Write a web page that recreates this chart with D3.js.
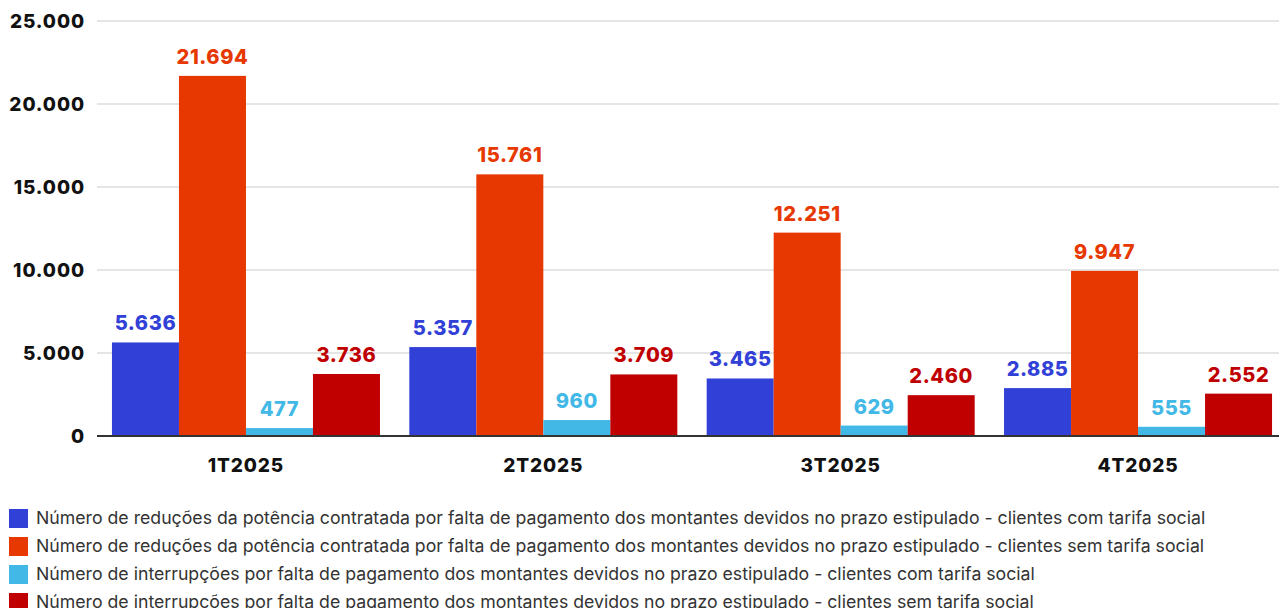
<!DOCTYPE html>
<html>
<head>
<meta charset="utf-8">
<script src="https://cdn.jsdelivr.net/npm/d3@7"></script>
<style>
  body { margin: 0; background: #fff; }
  svg { display: block; }
</style>
</head>
<body>
<svg id="chart" width="1279" height="608"></svg>
<script>
// Quarters on the x axis
const quarters = ["1T2025", "2T2025", "3T2025", "4T2025"];

// Series (same order as the legend)
const seriesNames = [
    "Número de reduções da potência contratada por falta de pagamento dos montantes devidos no prazo estipulado - clientes com tarifa social",
    "Número de reduções da potência contratada por falta de pagamento dos montantes devidos no prazo estipulado - clientes sem tarifa social",
    "Número de interrupções por falta de pagamento dos montantes devidos no prazo estipulado - clientes com tarifa social",
    "Número de interrupções por falta de pagamento dos montantes devidos no prazo estipulado - clientes sem tarifa social"
];
const reducoesComTarifa = [5636, 5357, 3465, 2885];
const reducoesSemTarifa = [21694, 15761, 12251, 9947];
const interrupcoesComTarifa = [477, 960, 629, 555];
const interrupcoesSemTarifa = [3736, 3709, 2460, 2552];
const seriesColors = ["#3140d6", "#e63800", "#41b8e6", "#c00000"];

const yTicks = [0, 5000, 10000, 15000, 20000, 25000];

const allSeries = [reducoesComTarifa, reducoesSemTarifa, interrupcoesComTarifa, interrupcoesSemTarifa];

const svg = d3.select("#chart");
const fmt = v => d3.format(",")(v).replace(/,/g, ".");

let x0 = d3.scaleBand()
    .domain(quarters)
    .range([97.3, 1286.7])
    .paddingInner(0.0987)
    .paddingOuter(0.0493);

let x1 = d3.scaleBand()
    .domain(d3.range(allSeries.length))
    .range([0, x0.bandwidth()]);

let y = d3.scaleLinear()
    .domain([0, 25000])
    .range([436, 21]);

// gridlines
svg.append("g")
    .selectAll("line")
    .data(yTicks.filter(d => d > 0))
    .enter().append("line")
    .attr("x1", 97).attr("x2", 1279)
    .attr("y1", d => y(d)).attr("y2", d => y(d))
    .attr("stroke", "#cccccc")
    .attr("stroke-width", 1.2);

// y labels
svg.append("g")
    .selectAll("text")
    .data(yTicks)
    .enter().append("text")
    .attr("x", 85)
    .attr("y", d => y(d) + 7)
    .attr("text-anchor", "end")
    .style("font-family", "Inter, sans-serif")
    .style("font-weight", "800")
    .style("font-size", "19px")
    .style("letter-spacing", "0.9px")
    .attr("fill", "#111")
    .text(d => fmt(d));

// bars
let groups = svg.append("g")
    .selectAll("g")
    .data(quarters)
    .enter().append("g")
    .attr("transform", d => `translate(${x0(d)},0)`);

groups.selectAll("rect")
    .data((q, qi) => allSeries.map((s, si) => ({ si, v: s[qi] })))
    .enter().append("rect")
    .attr("x", d => x1(d.si))
    .attr("y", d => y(d.v))
    .attr("width", x1.bandwidth())
    .attr("height", d => y(0) - y(d.v))
    .attr("fill", d => seriesColors[d.si]);

groups.selectAll("text")
    .data((q, qi) => allSeries.map((s, si) => ({ si, v: s[qi] })))
    .enter().append("text")
    .attr("x", d => x1(d.si) + x1.bandwidth() / 2)
    .attr("y", d => y(d.v) - 12)
    .attr("text-anchor", "middle")
    .style("font-family", "Inter, sans-serif")
    .style("font-weight", "800")
    .style("font-size", "20px")
    .style("letter-spacing", "0.6px")
    .attr("fill", d => seriesColors[d.si])
    .text(d => fmt(d.v));

// zero line
svg.append("line")
    .attr("x1", 97).attr("x2", 1279)
    .attr("y1", y(0)).attr("y2", y(0))
    .attr("stroke", "#333")
    .attr("stroke-width", 2);

// category labels
svg.append("g")
    .selectAll("text")
    .data(quarters)
    .enter().append("text")
    .attr("x", d => x0(d) + x0.bandwidth() / 2)
    .attr("y", 472)
    .attr("text-anchor", "middle")
    .style("font-family", "Inter, sans-serif")
    .style("font-weight", "800")
    .style("font-size", "19px")
    .style("letter-spacing", "0.9px")
    .attr("fill", "#111")
    .text(d => d);

// legend
let legend = svg.append("g")
    .selectAll("g")
    .data(seriesNames)
    .enter().append("g")
    .attr("transform", (d, i) => `translate(9,${509 + i * 28})`);

legend.append("rect")
    .attr("width", 19).attr("height", 19)
    .attr("fill", (d, i) => seriesColors[i]);

legend.append("text")
    .attr("x", 27)
    .attr("y", 15)
    .style("font-family", "Inter, sans-serif")
    .style("font-size", "17.7px")
    .attr("fill", "#333")
    .text(d => d);
</script>
</body>
</html>
